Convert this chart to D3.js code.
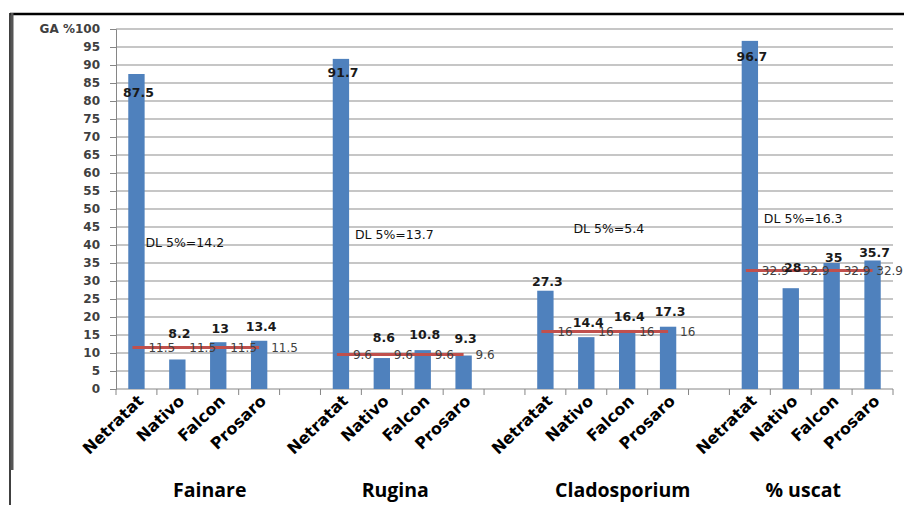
<!DOCTYPE html>
<html>
<head>
<meta charset="utf-8">
<script src="https://cdn.jsdelivr.net/npm/d3@7/dist/d3.min.js"></script>
<style>
  body { margin: 0; background: #fff; }
  svg { display: block; }
  .tick text { font-family: "DejaVu Sans", sans-serif; }
</style>
</head>
<body>
<div id="graphicContainer"></div>
<script>
// values
var groups = ["Fainare", "Rugina", "Cladosporium", "% uscat"]
var treatments = ["Netratat", "Nativo", "Falcon", "Prosaro"]
var fainare = [87.5, 8.2, 13, 13.4]
var rugina = [91.7, 8.6, 10.8, 9.3]
var cladosporium = [27.3, 14.4, 16.4, 17.3]
var uscat = [96.7, 28, 35, 35.7]
var dlLine = [11.5, 9.6, 16, 32.9]
var dl5 = ["14.2", "13.7", "5.4", "16.3"]
var yTicks = [0, 5, 10, 15, 20, 25, 30, 35, 40, 45, 50, 55, 60, 65, 70, 75, 80, 85, 90, 95, 100]

var series = [fainare, rugina, cladosporium, uscat]

var width = 904
var height = 505
var margin = { top: 29, right: 11, bottom: 116, left: 116 }

var blue = "#4f81bd"
var red = "#c0504d"
var grid = "#b3b3b3"

// hand placed labels in the original (offset of label centre from bar top)
var labelDy = [[18, -26, -14, -14], [14, -21, -16, -17], [-9, -15, -13, -15], [16, -21, -6, -8]]
var dlPos = [{ dx: 9, v: 40.6 }, { dx: 14, v: 42.8 }, { dx: 28, v: 44.7 }, { dx: 14, v: 47.5 }]
var titleDx = [12, -7, 16, -8]

var slots = []
groups.forEach(function (g, gi) {
  treatments.forEach(function (t, ti) {
    slots.push({ group: gi, t: ti, name: t, value: series[gi][ti], slot: gi * 5 + ti })
  })
})
var nSlots = groups.length * 5 - 1

var svg = d3.select("#graphicContainer").append("svg")
  .attr("width", width)
  .attr("height", height)

svg.append("rect").attr("width", width).attr("height", height).attr("fill", "#fff")

var x = d3.scaleBand()
  .domain(d3.range(nSlots))
  .range([margin.left, width - margin.right])
  .paddingInner(0.6)
  .paddingOuter(0.3)
var step = x.step()
var y = d3.scaleLinear().domain([0, 100]).range([height - margin.bottom, margin.top])

function cx(i) { return x(i) + x.bandwidth() / 2 }

// frame
svg.append("line").attr("x1", 10).attr("x2", width).attr("y1", 14).attr("y2", 14)
  .attr("stroke", "#000").attr("stroke-width", 2.5)
svg.append("line").attr("x1", 10).attr("x2", 10).attr("y1", 13).attr("y2", height)
  .attr("stroke", "#000").attr("stroke-width", 1.5)
svg.append("line").attr("x1", 12).attr("x2", 12).attr("y1", 13).attr("y2", 470)
  .attr("stroke", "#555").attr("stroke-width", 3)

// gridlines
svg.append("g").selectAll("line").data(yTicks.filter(function (d) { return d > 0 }))
  .enter().append("line")
  .attr("x1", margin.left).attr("x2", width - margin.right)
  .attr("y1", function (d) { return y(d) }).attr("y2", function (d) { return y(d) })
  .attr("stroke", grid).attr("stroke-width", 1.3)

// y axis
var yAxis = d3.axisLeft(y).tickValues(yTicks).tickSize(6).tickPadding(10)
  .tickFormat(function (d) { return d === 100 ? "GA %100" : d })
var gy = svg.append("g").attr("transform", "translate(" + margin.left + ",0)").call(yAxis)
gy.select(".domain").attr("stroke", "#868686")
gy.selectAll(".tick line").attr("stroke", "#868686")
gy.selectAll(".tick text")
  .attr("fill", "#404040")
  .style("font-size", "12px")
  .style("font-weight", "bold")

// x axis line and slot ticks
var y0 = y(0)
svg.append("line").attr("x1", margin.left).attr("x2", width - margin.right)
  .attr("y1", y0).attr("y2", y0).attr("stroke", "#868686")
svg.append("g").selectAll("line").data(d3.range(nSlots + 1))
  .enter().append("line")
  .attr("x1", function (k) { return margin.left + k * step })
  .attr("x2", function (k) { return margin.left + k * step })
  .attr("y1", y0).attr("y2", y0 + 6)
  .attr("stroke", "#868686")

// bars
svg.selectAll(".bar").data(slots)
  .enter().append("rect")
  .attr("class", "bar")
  .attr("x", function (d) { return x(d.slot) })
  .attr("width", x.bandwidth())
  .attr("y", function (d) { return y(d.value) })
  .attr("height", function (d) { return y0 - y(d.value) })
  .attr("fill", blue)

// DL lines
groups.forEach(function (g, gi) {
  var first = gi * 5
  var last = gi * 5 + 3
  svg.append("line")
    .attr("x1", cx(first) - 4).attr("x2", cx(last))
    .attr("y1", y(dlLine[gi])).attr("y2", y(dlLine[gi]))
    .attr("stroke", red).attr("stroke-width", 3)
  treatments.forEach(function (t, ti) {
    var lbl = svg.append("text")
      .attr("x", cx(first + ti) + 12)
      .attr("y", y(dlLine[gi]) + 4.5)
      .attr("fill", "#404040")
      .style("font-family", "DejaVu Sans, sans-serif")
      .style("font-size", "12px")
      .text(dlLine[gi])
    // keep the last label inside the picture
    var w = lbl.node().getComputedTextLength()
    if (cx(first + ti) + 12 + w > width - 1) lbl.attr("x", width - 1 - w)
  })
  svg.append("text")
    .attr("x", cx(first) + dlPos[gi].dx)
    .attr("y", y(dlPos[gi].v) + 4.5)
    .attr("fill", "#111")
    .style("font-family", "DejaVu Sans, sans-serif")
    .style("font-size", "12.5px")
    .text("DL 5%=" + dl5[gi])
})

// value labels
svg.selectAll(".valueLabel").data(slots)
  .enter().append("text")
  .attr("class", "valueLabel")
  .attr("x", function (d) { return cx(d.slot) + 2 })
  .attr("y", function (d) { return y(d.value) + labelDy[d.group][d.t] + 4.5 })
  .attr("text-anchor", "middle")
  .attr("fill", "#1a1a1a")
  .style("font-family", "DejaVu Sans, sans-serif")
  .style("font-size", "12.5px")
  .style("font-weight", "bold")
  .text(function (d) { return d.value })

// category labels
svg.selectAll(".catLabel").data(slots)
  .enter().append("text")
  .attr("class", "catLabel")
  .attr("transform", function (d) {
    return "translate(" + (cx(d.slot) + 8) + "," + (y0 + 13) + ") rotate(-44)"
  })
  .attr("text-anchor", "end")
  .attr("fill", "#000")
  .style("font-family", "DejaVu Sans, sans-serif")
  .style("font-size", "16px")
  .style("font-weight", "bold")
  .text(function (d) { return d.name })

// group titles
svg.selectAll(".groupTitle").data(groups)
  .enter().append("text")
  .attr("class", "groupTitle")
  .attr("x", function (d, i) { return (cx(i * 5) + cx(i * 5 + 3)) / 2 + titleDx[i] })
  .attr("y", 497)
  .attr("text-anchor", "middle")
  .attr("fill", "#000")
  .style("font-family", "Open Sans, sans-serif")
  .style("font-size", "19.5px")
  .style("font-weight", "bold")
  .text(function (d) { return d })
</script>
</body>
</html>
